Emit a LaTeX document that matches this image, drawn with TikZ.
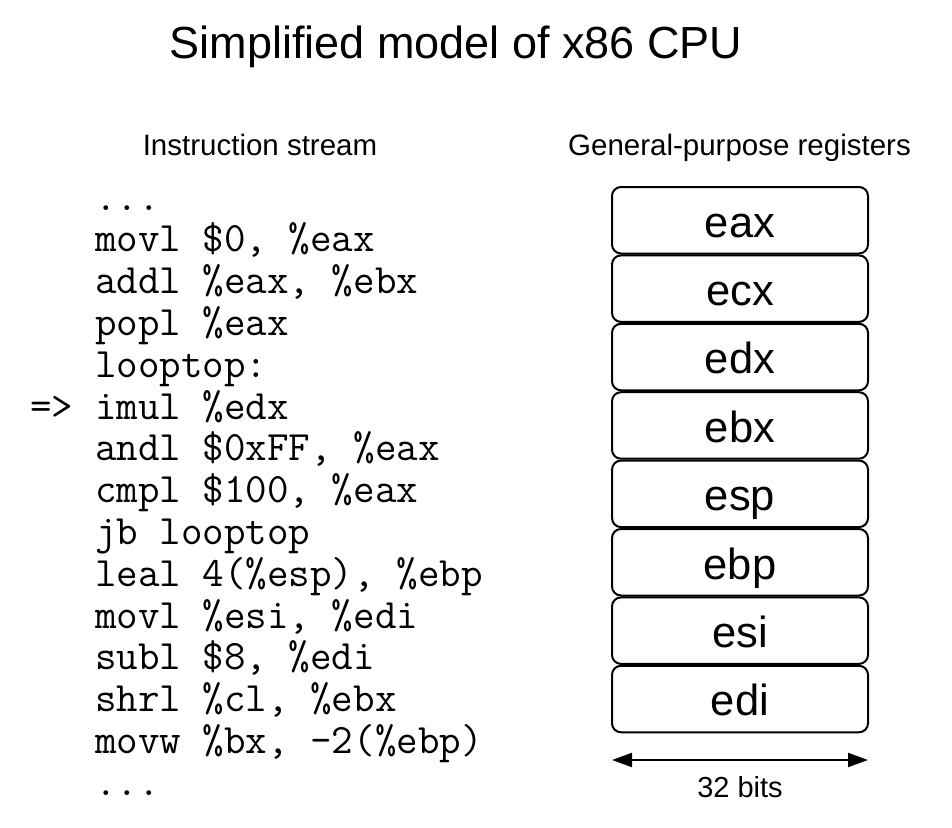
\documentclass[tikz,border=0pt]{standalone}
\usepackage{fontspec}
\setmainfont{Liberation Sans}
\usetikzlibrary{arrows.meta}
\begin{document}
\begin{tikzpicture}[x=1pt,y=-1pt,
  codeline/.style={anchor=base west,inner sep=0pt,font=\ttfamily\fontsize{41.8}{44}\selectfont},
  header/.style={anchor=base,inner sep=0pt,font=\fontsize{29.5}{32}\selectfont},
  regbox/.style={draw,line width=2pt,rounded corners=9pt,minimum width=256pt,minimum height=66.5pt,
    inner sep=0pt,text height=33.5pt,text depth=0pt,font=\fontsize{43.5}{46}\selectfont}]
\useasboundingbox (0,0) rectangle (952,827);
% title and headers
\node[anchor=base,inner sep=0pt,font=\fontsize{45}{48}\selectfont] (title) at (456,58) {Simplified model of x86 CPU};
\node[header] (hstream) at (260,155) {Instruction stream};
\node[header] (hregs) at (739.5,155) {General-purpose registers};
% instruction stream
\def\cx{95}
\node[codeline] (c0) at (\cx,210) {...};
\node[codeline] (c1) at (\cx,251.8) {movl \$0, \%eax};
\node[codeline] (c2) at (\cx,293.6) {addl \%eax, \%ebx};
\node[codeline] (c3) at (\cx,335.4) {popl \%eax};
\node[codeline] (c4) at (\cx,377.2) {looptop:};
\node[codeline] (c5) at (\cx,419.0) {imul \%edx};
\node[codeline] (ptr) at (30,419.0) {=>};
\node[codeline] (c6) at (\cx,460.8) {andl \$0xFF, \%eax};
\node[codeline] (c7) at (\cx,502.6) {cmpl \$100, \%eax};
\node[codeline] (c8) at (\cx,544.4) {jb looptop};
\node[codeline] (c9) at (\cx,586.2) {leal 4(\%esp), \%ebp};
\node[codeline] (c10) at (\cx,628.0) {movl \%esi, \%edi};
\node[codeline] (c11) at (\cx,669.8) {subl \$8, \%edi};
\node[codeline] (c12) at (\cx,711.6) {shrl \%cl, \%ebx};
\node[codeline] (c13) at (\cx,753.4) {movw \%bx, -2(\%ebp)};
\node[codeline] (c14) at (\cx,795.2) {...};
% registers
\node[regbox] (eax) at (740,220.25) {eax};
\node[regbox] (ecx) at (740,288.65) {ecx};
\node[regbox] (edx) at (740,357.05) {edx};
\node[regbox] (ebx) at (740,425.45) {ebx};
\node[regbox] (esp) at (740,493.85) {esp};
\node[regbox] (ebp) at (740,562.25) {ebp};
\node[regbox] (esi) at (740,630.65) {esi};
\node[regbox] (edi) at (740,699.05) {edi};
% width arrow
\coordinate (wl) at (612,760);
\coordinate (wr) at (868,760);
\draw[line width=2pt,{Triangle[length=20pt,width=14pt]}-{Triangle[length=20pt,width=14pt]}] (wl) -- (wr);
\node[anchor=base,inner sep=0pt,font=\fontsize{29}{32}\selectfont] (bits) at (740,797) {32 bits};
\end{tikzpicture}
\end{document}
